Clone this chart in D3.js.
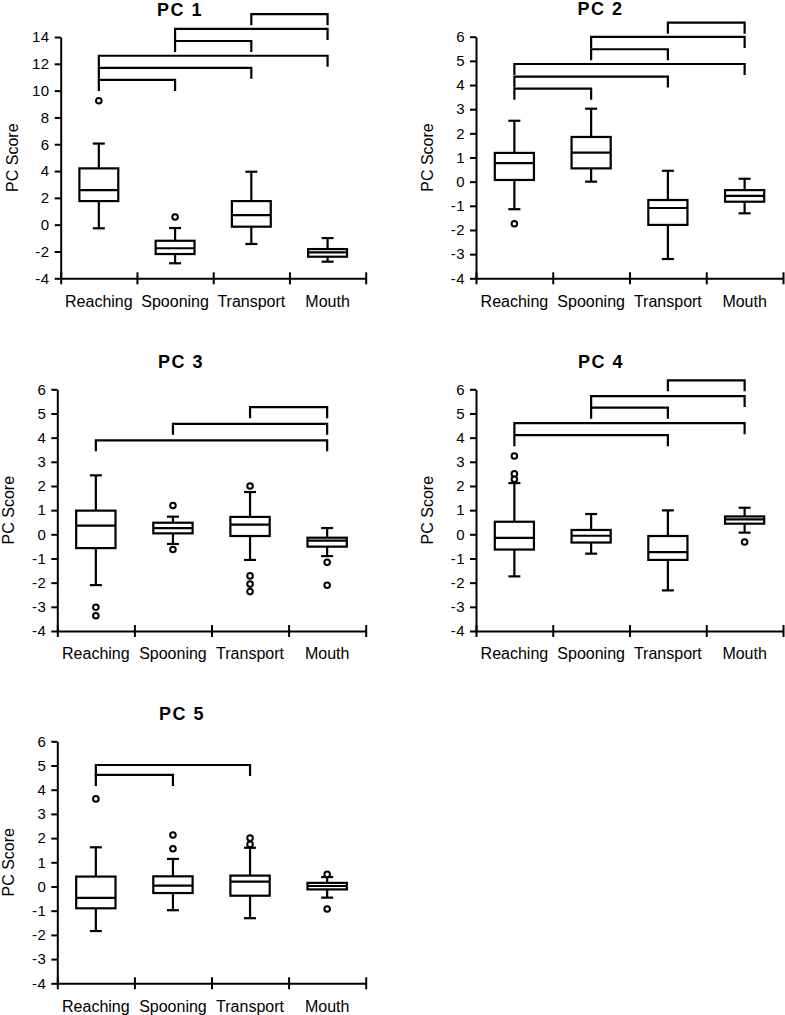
<!DOCTYPE html>
<html>
<head>
<meta charset="utf-8">
<script src="https://cdn.jsdelivr.net/npm/d3@7"></script>
<style>
  body { margin: 0; background: #fff; }
  svg { display: block; font-family: "Liberation Sans", Arial, sans-serif; }
  .tick text { fill: #000; }
</style>
</head>
<body>
<div id="chart"></div>
<script>
// categories and tick values
const categories = ["Reaching", "Spooning", "Transport", "Mouth"];
const titles = ["PC 1", "PC 2", "PC 3", "PC 4", "PC 5"];
const pc1Ticks = [-4, -2, 0, 2, 4, 6, 8, 10, 12, 14];
const pcTicks = [-4, -3, -2, -1, 0, 1, 2, 3, 4, 5, 6];

// box stats per category: [low whisker, Q1, median, Q3, high whisker]
const pc1Boxes = [[-0.27, 1.76, 2.58, 4.2, 6.05], [-2.88, -2.19, -1.76, -1.2, -0.25], [-1.44, -0.15, 0.72, 1.76, 3.95], [-2.76, -2.39, -2.06, -1.82, -1.0]];
const pc2Boxes = [[-1.14, 0.07, 0.77, 1.19, 2.52], [0, 0.55, 1.2, 1.85, 3.02], [-3.2, -1.79, -1.09, -0.76, 0.45], [-1.31, -0.83, -0.59, -0.35, 0.12]];
const pc3Boxes = [[-2.1, -0.57, 0.36, 0.98, 2.44], [-0.4, 0.04, 0.26, 0.48, 0.73], [-1.06, -0.07, 0.4, 0.72, 1.75], [-0.9, -0.51, -0.26, -0.14, 0.26]];
const pc4Boxes = [[-1.74, -0.63, -0.15, 0.52, 2.12], [-0.8, -0.34, -0.06, 0.18, 0.84], [-2.32, -1.06, -0.74, -0.07, 0.99], [0.07, 0.44, 0.62, 0.74, 1.1]];
const pc5Boxes = [[-1.84, -0.9, -0.47, 0.41, 1.62], [-0.98, -0.27, 0.04, 0.42, 1.14], [-1.31, -0.38, 0.2, 0.45, 1.6], [-0.46, -0.12, 0.02, 0.15, 0.39]];

// outliers: [category, value]
const pc1Outliers = [["Reaching", 9.24], ["Spooning", 0.57]];
const pc2Outliers = [["Reaching", -1.74]];
const pc3Outliers = [["Reaching", -3.02], ["Reaching", -3.37], ["Spooning", 1.19], ["Spooning", -0.63],
  ["Transport", 2.0], ["Transport", -1.72], ["Transport", -2.06], ["Transport", -2.37], ["Mouth", -1.16], ["Mouth", -2.11]];
const pc4Outliers = [["Reaching", 3.24], ["Reaching", 2.5], ["Reaching", 2.28], ["Mouth", -0.32]];
const pc5Outliers = [["Reaching", 3.62], ["Spooning", 2.13], ["Spooning", 1.56], ["Transport", 2.0], ["Transport", 1.74], ["Mouth", 0.5], ["Mouth", -0.93]];

// significance brackets: [from, to, level]
const pc1Brackets = [["Reaching", "Spooning", 10.8], ["Reaching", "Transport", 11.7], ["Reaching", "Mouth", 12.6],
  ["Spooning", "Transport", 13.7], ["Spooning", "Mouth", 14.6], ["Transport", "Mouth", 15.7]];
const pc2Brackets = [["Reaching", "Spooning", 3.85], ["Reaching", "Transport", 4.35], ["Reaching", "Mouth", 4.87],
  ["Spooning", "Transport", 5.48], ["Spooning", "Mouth", 5.99], ["Transport", "Mouth", 6.58]];
const pc3Brackets = [["Reaching", "Mouth", 3.89], ["Spooning", "Mouth", 4.57], ["Transport", "Mouth", 5.26]];
const pc4Brackets = [["Reaching", "Transport", 4.1], ["Reaching", "Mouth", 4.6], ["Spooning", "Transport", 5.24],
  ["Spooning", "Mouth", 5.72], ["Transport", "Mouth", 6.37]];
const pc5Brackets = [["Reaching", "Spooning", 4.61], ["Reaching", "Transport", 5.02]];

const panels = [
  {title: titles[0], ticks: pc1Ticks, boxes: pc1Boxes, outliers: pc1Outliers, brackets: pc1Brackets, left: 60.7, right: 365.7, top: 37, bottom: 278.3, titleX: 180},
  {title: titles[1], ticks: pcTicks, boxes: pc2Boxes, outliers: pc2Outliers, brackets: pc2Brackets, left: 476, right: 783, top: 36.7, bottom: 278.3, titleX: 600.5},
  {title: titles[2], ticks: pcTicks, boxes: pc3Boxes, outliers: pc3Outliers, brackets: pc3Brackets, left: 57.3, right: 365.7, top: 389.3, bottom: 631, titleX: 181},
  {title: titles[3], ticks: pcTicks, boxes: pc4Boxes, outliers: pc4Outliers, brackets: pc4Brackets, left: 476, right: 783, top: 389.3, bottom: 631, titleX: 601},
  {title: titles[4], ticks: pcTicks, boxes: pc5Boxes, outliers: pc5Outliers, brackets: pc5Brackets, left: 57.3, right: 365.7, top: 741.3, bottom: 983.3, titleX: 182}
];

const svg = d3.select("#chart").append("svg")
  .attr("width", 785)
  .attr("height", 1015);

const legLen = 11, capHalf = 6;

panels.forEach(function(p) {
  let g = svg.append("g");

  let y = d3.scaleLinear()
    .domain(d3.extent(p.ticks))
    .range([p.bottom, p.top]);

  let x = d3.scaleBand()
    .domain(categories)
    .range([p.left, p.right]);

  let edge = d3.scaleLinear()
    .domain([0, categories.length])
    .range([p.left, p.right]);

  let cx = function(c) { return x(c) + x.bandwidth() / 2 };
  let boxW = x.bandwidth() * 0.51;

  // y axis (plain hyphen for negatives, like the original)
  let yAxis = g.append("g")
    .attr("transform", `translate(${p.left},0)`)
    .call(d3.axisLeft(y).tickValues(p.ticks).tickSize(6).tickSizeOuter(0).tickPadding(5)
      .tickFormat(d => String(d)));
  yAxis.select(".domain").attr("stroke-width", 2);
  yAxis.selectAll(".tick line").attr("stroke-width", 2);
  yAxis.selectAll(".tick text")
    .style("font-size", "15px")
    .style("letter-spacing", "0.5px");

  // x axis with crossing ticks at category edges
  let xAxis = g.append("g")
    .attr("transform", `translate(0,${p.bottom})`)
    .call(d3.axisBottom(edge).tickValues(d3.range(categories.length + 1)).tickSize(6).tickSizeOuter(0).tickFormat(""));
  xAxis.select(".domain").attr("stroke-width", 2);
  xAxis.selectAll(".tick line").attr("y1", -6).attr("stroke-width", 2);

  // category labels
  g.append("g")
    .attr("transform", `translate(0,${p.bottom})`)
    .call(d3.axisBottom(x).tickSize(0).tickPadding(17))
    .call(function(a) { a.select(".domain").remove() })
    .selectAll("text")
    .style("font-size", "16px");

  // title
  g.append("text")
    .attr("x", p.titleX)
    .attr("y", p.top - 21.5)
    .attr("text-anchor", "middle")
    .style("font-size", "18px")
    .style("font-weight", "bold")
    .style("letter-spacing", "1.5px")
    .text(p.title);

  // y label
  g.append("text")
    .attr("transform", `translate(${p.left - 43},${(p.top + p.bottom) / 2}) rotate(-90)`)
    .attr("text-anchor", "middle")
    .style("font-size", "16px")
    .text("PC Score");

  // boxes
  let box = g.selectAll(".box")
    .data(p.boxes)
    .enter()
    .append("g")
    .attr("class", "box")
    .attr("fill", "none")
    .attr("stroke", "#000")
    .attr("stroke-width", 2.2);

  box.append("line")
    .attr("x1", (d, i) => cx(categories[i])).attr("x2", (d, i) => cx(categories[i]))
    .attr("y1", d => y(d[0])).attr("y2", d => y(d[4]));
  box.append("line")
    .attr("x1", (d, i) => cx(categories[i]) - capHalf).attr("x2", (d, i) => cx(categories[i]) + capHalf)
    .attr("y1", d => y(d[0])).attr("y2", d => y(d[0]));
  box.append("line")
    .attr("x1", (d, i) => cx(categories[i]) - capHalf).attr("x2", (d, i) => cx(categories[i]) + capHalf)
    .attr("y1", d => y(d[4])).attr("y2", d => y(d[4]));
  box.append("rect")
    .attr("x", (d, i) => cx(categories[i]) - boxW / 2)
    .attr("width", boxW)
    .attr("y", d => y(d[3]))
    .attr("height", d => y(d[1]) - y(d[3]))
    .attr("fill", "#fff");
  box.append("line")
    .attr("x1", (d, i) => cx(categories[i]) - boxW / 2).attr("x2", (d, i) => cx(categories[i]) + boxW / 2)
    .attr("y1", d => y(d[2])).attr("y2", d => y(d[2]));

  // outliers
  g.selectAll(".out")
    .data(p.outliers)
    .enter()
    .append("circle")
    .attr("cx", d => cx(d[0]))
    .attr("cy", d => y(d[1]))
    .attr("r", 2.8)
    .attr("fill", "#fff")
    .attr("stroke", "#000")
    .attr("stroke-width", 2);

  // brackets
  g.selectAll(".bracket")
    .data(p.brackets)
    .enter()
    .append("path")
    .attr("fill", "none")
    .attr("stroke", "#000")
    .attr("stroke-width", 2.2)
    .attr("d", function(d) {
      let yy = y(d[2]);
      return `M${cx(d[0])},${yy + legLen}V${yy}H${cx(d[1])}V${yy + legLen}`;
    });
});
</script>
</body>
</html>
